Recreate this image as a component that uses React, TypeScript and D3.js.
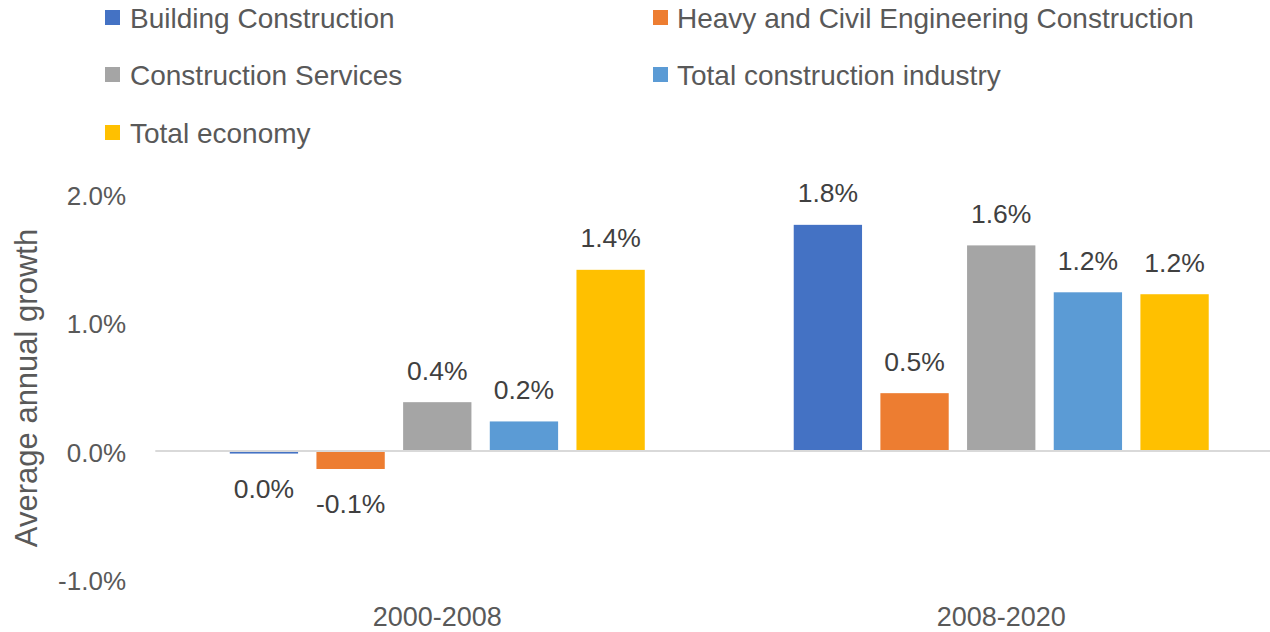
import React from "react";
import * as d3 from "d3";

const categories = ["2000-2008", "2008-2020"];
const seriesNames = [
  "Building Construction",
  "Heavy and Civil Engineering Construction",
  "Construction Services",
  "Total construction industry",
  "Total economy",
];
const buildingConstruction = [-0.02, 1.76];
const heavyCivil = [-0.14, 0.45];
const constructionServices = [0.38, 1.6];
const totalConstruction = [0.23, 1.235];
const totalEconomy = [1.41, 1.22];
const yTicks = [-1, 0, 1, 2];
const colors = ["#4472C4", "#ED7D31", "#A5A5A5", "#5B9BD5", "#FFC000"];

const seriesValues = [buildingConstruction, heavyCivil, constructionServices, totalConstruction, totalEconomy];

const W = 1270;
const H = 632;
const FONT = "'Liberation Sans', Arial, sans-serif";

const pct = (v: number) => d3.format(".1f")(v).replace("\u2212", "-") + "%";

export default function App() {
  const x0 = d3.scaleBand<string>().domain(categories).range([155.3, 1283.2]).padding(0);
  const bw0 = x0.bandwidth();
  const groupW = 415;
  const off = (bw0 - groupW) / 2;
  const x1 = d3
    .scaleBand<string>()
    .domain(seriesNames)
    .range([off, off + groupW])
    .paddingInner(0.2118)
    .paddingOuter(0);
  const y = d3.scaleLinear().domain([-1, 2]).range([579.5, 194]);
  const fmt = (v: number) => (Math.abs(v) < 0.05 ? "0.0%" : pct(v));

  const legendPos = [
    [105, 130, 28],
    [653, 677, 28],
    [105, 130, 85],
    [653, 677, 85],
    [105, 130, 143],
  ];

  return (
    <svg width={W} height={H} style={{ position: "absolute", left: 0, top: 0, background: "#fff" }}>
      {/* Legend */}
      {seriesNames.map((name, i) => {
        const [sx, tx, by] = legendPos[i];
        return (
          <g key={name}>
            <rect x={sx} y={by - 18} width={15} height={15} fill={colors[i]} />
            <text x={tx} y={by} fontFamily={FONT} fontSize={28} fill="#595959">
              {name}
            </text>
          </g>
        );
      })}

      {/* Y tick labels */}
      {yTicks.map((t) => (
        <text
          key={t}
          x={126}
          y={y(t) + 10.5}
          textAnchor="end"
          fontFamily={FONT}
          fontSize={26}
          fill="#595959"
        >
          {pct(t)}
        </text>
      ))}

      {/* Axis title */}
      <text
        transform={`translate(37,388) rotate(-90)`}
        textAnchor="middle"
        fontFamily={FONT}
        fontSize={31}
        fill="#595959"
      >
        Average annual growth
      </text>

      {/* Bars */}
      {categories.map((c, ci) => (
        <g key={c} transform={`translate(${x0(c)},0)`}>
          {seriesNames.map((s, si) => {
            const v = seriesValues[si][ci];
            const top = y(Math.max(0, v));
            const bot = y(Math.min(0, v));
            const bx = x1(s)!;
            const cx = bx + x1.bandwidth() / 2;
            return (
              <g key={s}>
                <rect x={bx} y={top} width={x1.bandwidth()} height={Math.max(1, bot - top)} fill={colors[si]} />
                <text
                  x={cx}
                  y={v >= 0 ? top - 22.5 : bot + 44}
                  textAnchor="middle"
                  fontFamily={FONT}
                  fontSize={26.5}
                  fill="#404040"
                >
                  {fmt(v)}
                </text>
              </g>
            );
          })}
        </g>
      ))}

      {/* Zero line */}
      <line x1={155.3} x2={W} y1={y(0)} y2={y(0)} stroke="#D9D9D9" strokeWidth={2} />

      {/* Category labels */}
      {categories.map((c) => (
        <text
          key={c}
          x={x0(c)! + bw0 / 2}
          y={626}
          textAnchor="middle"
          fontFamily={FONT}
          fontSize={27}
          fill="#595959"
        >
          {c}
        </text>
      ))}
    </svg>
  );
}
